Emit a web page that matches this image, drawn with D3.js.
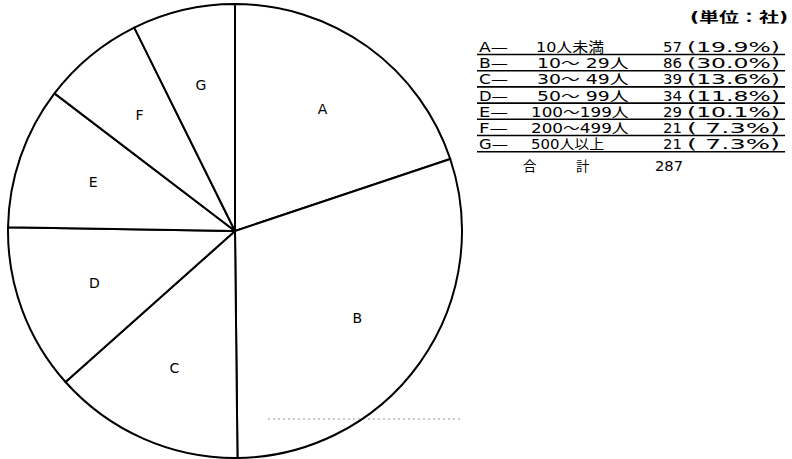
<!DOCTYPE html>
<head>
    <meta name="viewport" content="width=device-width, initial-scale=1">
</head>
<meta charset="utf-8">
<style>
    body { margin: 0; background: #fff; }
    svg { display: block; }
    .slice { fill: #fff; stroke: #000; stroke-width: 2px; stroke-linejoin: round; }
    .slice-label { font: 14px "DejaVu Sans", sans-serif; fill: #000; }
    .tbl { font-family: "DejaVu Sans", "Noto Sans CJK JP", sans-serif; font-size: 13.5px; fill: #000; white-space: pre; }
    .rule { stroke: #000; stroke-width: 1.6px; }
</style>

<svg width="792" height="459" id="chart"></svg>

<script src="https://d3js.org/d3.v7.min.js"></script>
<script>
    // values (unit: companies)
    var letters = ["A", "B", "C", "D", "E", "F", "G"];
    var ranges = [" 10人未満", " 10〜 29人", " 30〜 49人", " 50〜 99人", "100〜199人", "200〜499人", "500人以上"];
    var counts = [57, 86, 39, 34, 29, 21, 21];
    var percents = ["19.9", "30.0", "13.6", "11.8", "10.1", "7.3", "7.3"];
    var totalLabel = ["合", "計"];
    var total = 287;
    var unitLabel = "(単位：社)";

    var svg = d3.select("#chart");
    var cx = 235, cy = 231, radius = 227;

    var pie = d3.pie().sort(null).value(function (d) { return d; });
    var arc = d3.arc().innerRadius(0).outerRadius(radius);
    var labelArc = d3.arc().innerRadius(150).outerRadius(150);

    var g = svg.append("g").attr("transform", "translate(" + cx + "," + cy + ")");
    var arcs = pie(counts);

    g.selectAll("path")
        .data(arcs)
        .enter().append("path")
        .attr("class", "slice")
        .attr("d", arc);

    g.selectAll("text")
        .data(arcs)
        .enter().append("text")
        .attr("class", "slice-label")
        .attr("transform", function (d) { return "translate(" + labelArc.centroid(d) + ")"; })
        .attr("text-anchor", "middle")
        .attr("dy", "0.35em")
        .text(function (d, i) { return letters[i]; });

    // faint scan line near the bottom
    svg.append("line")
        .attr("x1", 268).attr("x2", 463)
        .attr("y1", 419).attr("y2", 419)
        .attr("stroke", "#555")
        .attr("stroke-width", 1)
        .attr("stroke-dasharray", "2,3")
        .attr("opacity", 0.6);

    // table on the right
    var rowY = d3.scaleLinear().domain([0, 1]).range([52, 68.2]);
    var cell = 12.2;

    svg.append("text")
        .attr("class", "tbl")
        .attr("x", 690).attr("y", 22)
        .attr("font-weight", "bold")
        .attr("font-size", 14)
        .attr("textLength", 98)
        .attr("lengthAdjust", "spacingAndGlyphs")
        .text(unitLabel);

    var rows = svg.append("g").selectAll("g")
        .data(letters)
        .enter().append("g")
        .attr("transform", function (d, i) { return "translate(0," + rowY(i) + ")"; });

    rows.append("text")
        .attr("class", "tbl")
        .attr("x", 479)
        .attr("textLength", 29)
        .attr("lengthAdjust", "spacingAndGlyphs")
        .text(function (d) { return d + "—"; });

    rows.append("text")
        .attr("class", "tbl")
        .attr("x", 531)
        .attr("textLength", function (d, i) { return Array.from(ranges[i]).length * cell; })
        .attr("lengthAdjust", "spacingAndGlyphs")
        .text(function (d, i) { return ranges[i]; });

    rows.append("text")
        .attr("class", "tbl")
        .attr("x", 663)
        .attr("textLength", 19)
        .attr("lengthAdjust", "spacingAndGlyphs")
        .text(function (d, i) { return counts[i]; });

    rows.append("text")
        .attr("class", "tbl")
        .attr("x", 687)
        .attr("textLength", 93)
        .attr("lengthAdjust", "spacingAndGlyphs")
        .text(function (d, i) {
            var p = percents[i];
            return "(" + (p.length < 4 ? " " : "") + p + "%)";
        });

    rows.append("line")
        .attr("class", "rule")
        .attr("x1", 477).attr("x2", 785)
        .attr("y1", 2.5).attr("y2", 2.5);

    var totalY = 171;
    svg.append("text").attr("class", "tbl")
        .attr("x", 523).attr("y", totalY)
        .text(totalLabel[0]);
    svg.append("text").attr("class", "tbl")
        .attr("x", 576).attr("y", totalY)
        .text(totalLabel[1]);
    svg.append("text").attr("class", "tbl")
        .attr("x", 655).attr("y", totalY)
        .attr("textLength", 28)
        .attr("lengthAdjust", "spacingAndGlyphs")
        .text(total);
</script>
